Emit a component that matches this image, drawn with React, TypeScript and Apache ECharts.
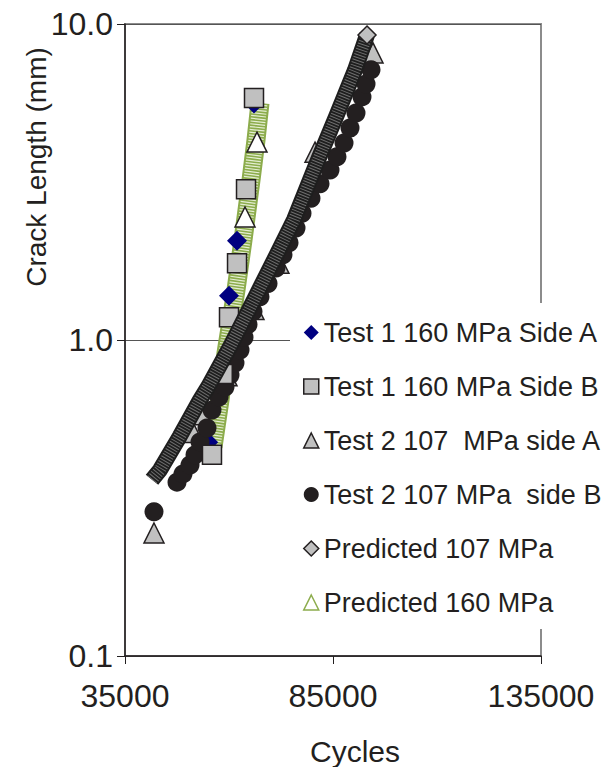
import React, { useEffect, useRef } from 'react';
import * as echarts from 'echarts';

// Cycles vs crack length (mm)
const test1SideA = [[55000, 0.475], [60000, 1.38], [61930, 2.06], [66010, 5.6]];
const test1SideB = [[55910, 0.433], [58500, 0.78], [60000, 1.18], [61930, 1.75], [64090, 3.0], [66010, 5.83]];
const test2SideA = [[41970, 0.245], [51350, 0.51], [53510, 0.58], [59520, 0.77], [66000, 1.25], [72000, 1.75], [80680, 3.93], [94620, 8.1]];
const test2SideB = [
  [41970, 0.286], [47500, 0.355], [48940, 0.377], [50630, 0.402], [51830, 0.433], [53030, 0.476],
  [54710, 0.527], [55910, 0.6], [57600, 0.66], [59040, 0.71], [60240, 0.775], [61440, 0.846],
  [62650, 0.93], [63610, 1.02], [64570, 1.12], [65770, 1.23], [67450, 1.37], [69380, 1.51],
  [71300, 1.69], [72980, 1.86], [74430, 2.03], [76110, 2.26], [77550, 2.52], [79710, 2.81],
  [81880, 3.12], [84280, 3.45], [85960, 3.8], [87650, 4.2], [89090, 4.69], [90530, 5.23],
  [91970, 5.88], [92940, 6.46], [94140, 7.16],
];
const predicted107 = [
  [41490, 0.361], [43410, 0.388], [48220, 0.497], [53030, 0.646], [54950, 0.71], [60240, 0.951],
  [66010, 1.339], [71060, 1.817], [75630, 2.4], [81400, 3.71], [85720, 5.08], [90290, 7.15], [93180, 9.23],
];
const predicted160 = [
  [56160, 0.459], [57840, 0.646], [59280, 0.91], [61680, 1.439], [63370, 2.073], [65290, 3.209],
  [66490, 4.293], [67450, 5.62],
];
const predicted160Marks = [[63850, 2.45], [66730, 4.23]];

const xMin = 35000;
const xMax = 135000;
const xStep = 50000;
const yMin = 0.1;
const yMax = 10;

const legendNames = [
  'Test 1 160 MPa Side A',
  'Test 1 160 MPa Side B',
  'Test 2 107  MPa side A',
  'Test 2 107 MPa  side B',
  'Predicted 107 MPa',
  'Predicted 160 MPa',
];

const FONT = '"Liberation Sans", Arial, Helvetica, sans-serif';
const INK = '#231f20';

export default function App() {
  const ref = useRef<HTMLDivElement>(null);
  useEffect(() => {
    if (!ref.current) return;
    const chart = echarts.init(ref.current, undefined, { renderer: 'svg' });
    const last107 = predicted107[predicted107.length - 1];
    chart.setOption({
      animation: false,
      backgroundColor: '#ffffff',
      grid: {
        left: 125, right: 69, top: 24, bottom: 111,
        show: true, borderColor: '#8c8c8c', borderWidth: 2, backgroundColor: 'transparent',
      },
      xAxis: {
        type: 'value', min: xMin, max: xMax, interval: xStep,
        axisLine: { show: true, onZero: false, lineStyle: { color: INK, width: 1.5 } },
        axisTick: { show: true, length: 8, lineStyle: { color: INK, width: 1 } },
        axisLabel: { fontSize: 32, color: INK, margin: 24, fontFamily: FONT, formatter: (v: number) => String(v) },
        splitLine: { show: false },
      },
      yAxis: {
        type: 'log', logBase: 10, min: yMin, max: yMax,
        axisLine: { show: true, lineStyle: { color: INK, width: 1.5 } },
        axisTick: { show: true, length: 8, lineStyle: { color: INK, width: 1 } },
        axisLabel: {
          fontSize: 32, color: INK, margin: 12, fontFamily: FONT,
          formatter: (v: number) => v.toFixed(1),
        },
        splitLine: { show: true, lineStyle: { color: '#555555', width: 1 } },
        minorTick: { show: false },
        minorSplitLine: { show: false },
      },
      legend: {
        orient: 'vertical', left: 290, top: 303, z: 10,
        itemWidth: 15, itemHeight: 15, itemGap: 27,
        padding: [16, 8, 13, 13], backgroundColor: '#ffffff',
        selectedMode: false,
        textStyle: { fontSize: 27, color: INK, fontFamily: FONT, lineHeight: 27 },
        data: [
          { name: legendNames[0], icon: 'diamond', itemStyle: { color: '#000080', borderWidth: 0, opacity: 1 } },
          { name: legendNames[1], icon: 'rect', itemStyle: { color: '#c0c0c0', borderColor: INK, borderWidth: 1.5, opacity: 1 } },
          { name: legendNames[2], icon: 'triangle', itemStyle: { color: '#c0c0c0', borderColor: INK, borderWidth: 1.5, opacity: 1 } },
          { name: legendNames[3], icon: 'circle', itemStyle: { color: INK, borderWidth: 0, opacity: 1 } },
          { name: legendNames[4], icon: 'diamond', itemStyle: { color: '#c0c0c0', borderColor: INK, borderWidth: 1.5, opacity: 1 } },
          { name: legendNames[5], icon: 'triangle', itemStyle: { color: '#ffffff', borderColor: '#8cac4c', borderWidth: 1.5, opacity: 1 } },
        ],
      },
      graphic: [
        {
          type: 'text', x: 36, y: 167, rotation: Math.PI / 2,
          style: { text: 'Crack Length (mm)', fontSize: 28, fontFamily: FONT, fill: INK, align: 'center', verticalAlign: 'middle' },
        },
        {
          type: 'text', x: 355, y: 751,
          style: { text: 'Cycles', fontSize: 30, fontFamily: FONT, fill: INK, align: 'center', verticalAlign: 'middle' },
        },
      ],
      series: [
        {
          name: legendNames[5], type: 'line', z: 1, data: predicted160, symbol: 'none',
          lineStyle: { color: '#8cac4c', width: 19, cap: 'butt', join: 'round' },
          itemStyle: { color: '#9bbb59' },
        },
        {
          name: legendNames[5], type: 'line', z: 1, data: predicted160, symbol: 'none',
          lineStyle: { color: '#e4eed2', width: 15, type: [1.2, 1.6], cap: 'butt', join: 'round' },
        },
        {
          name: legendNames[5], type: 'scatter', z: 2, data: predicted160Marks, symbol: 'triangle', symbolSize: 20,
          itemStyle: { color: '#ffffff', borderColor: INK, borderWidth: 1.5, opacity: 1 },
        },
        {
          name: legendNames[0], type: 'scatter', z: 3, data: test1SideA, symbol: 'diamond', symbolSize: 20,
          itemStyle: { color: '#000080', opacity: 1 },
        },
        {
          name: legendNames[2], type: 'scatter', z: 3, data: test2SideA, symbol: 'triangle', symbolSize: 20,
          itemStyle: { color: '#c0c0c0', borderColor: INK, borderWidth: 1.5, opacity: 1 },
        },
        {
          name: legendNames[3], type: 'scatter', z: 4, data: test2SideB, symbol: 'circle', symbolSize: 19,
          itemStyle: { color: INK, opacity: 1 },
        },
        {
          name: legendNames[1], type: 'scatter', z: 5, data: test1SideB, symbol: 'rect', symbolSize: 19,
          itemStyle: { color: '#c0c0c0', borderColor: INK, borderWidth: 1.5, opacity: 1 },
        },
        {
          name: legendNames[4], type: 'line', z: 6, data: predicted107, symbol: 'none',
          lineStyle: { color: '#1e1e1e', width: 16, cap: 'butt', join: 'round' },
          itemStyle: { color: '#c0c0c0' },
        },
        {
          name: legendNames[4], type: 'line', z: 6, data: predicted107, symbol: 'none',
          lineStyle: { color: '#6e6e6e', width: 12, type: [1, 1.8], cap: 'butt', join: 'round' },
        },
        {
          name: legendNames[4], type: 'scatter', z: 7, data: [last107], symbol: 'diamond', symbolSize: 18,
          itemStyle: { color: '#c0c0c0', borderColor: INK, borderWidth: 1.5, opacity: 1 },
        },
      ],
    });
    return () => chart.dispose();
  }, []);
  return <div ref={ref} style={{ position: 'absolute', left: 0, top: 0, width: 610, height: 767 }} />;
}
